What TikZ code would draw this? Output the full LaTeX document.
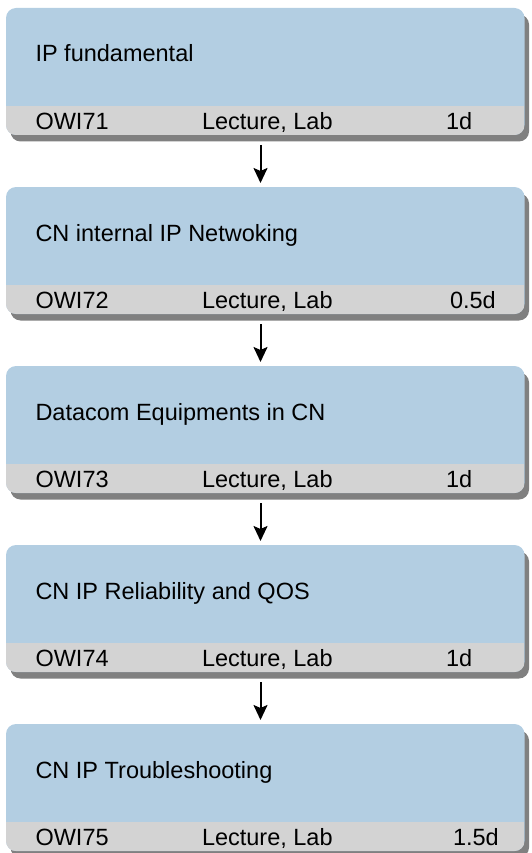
\documentclass[tikz,border=0pt]{standalone}
\usepackage{fontspec}
\setmainfont{Liberation Sans}
\usetikzlibrary{shadows,arrows.meta}
\definecolor{boxblue}{RGB}{179,206,226}
\definecolor{bargray}{RGB}{211,211,211}
\definecolor{shadowgray}{RGB}{128,128,128}
\tikzset{
  course/.style={rectangle, rounded corners=10pt, fill=boxblue, inner sep=0pt, outer sep=0pt,
    minimum width=518.5pt, minimum height=127pt, anchor=north west,
    drop shadow={shadow xshift=4.5pt, shadow yshift=-6.5pt, fill=shadowgray, opacity=1},
    path picture={\fill[bargray, sharp corners] ([yshift=29pt]path picture bounding box.south west) rectangle (path picture bounding box.south east);}},
  lbl/.style={anchor=base west, inner sep=0pt, outer sep=0pt, font=\fontsize{23.5}{28}\selectfont},
  arr/.style={line width=2pt, -{Stealth[length=15pt,width=14pt,inset=3pt]}}
}
\begin{document}
\begin{tikzpicture}[x=1pt,y=-1pt]
\useasboundingbox (0,0) rectangle (531,853);
% boxes
\node[course] (b1) at (6,8) {};
\node[course] (b2) at (6,187) {};
\node[course] (b3) at (6,366) {};
\node[course] (b4) at (6,545) {};
\node[course] (b5) at (6,724) {};
% titles
\node[lbl] (t1) at (35.5,62) {IP fundamental};
\node[lbl] (t2) at (35.5,241) {CN internal IP Netwoking};
\node[lbl] (t3) at (35.5,420) {Datacom Equipments in CN};
\node[lbl] (t4) at (35.5,599) {CN IP Reliability and QOS};
\node[lbl] (t5) at (35.5,778) {CN IP Troubleshooting};
% footers
\node[lbl] (c1) at (35.5,129.5) {OWI71};
\node[lbl] (m1) at (202,129.5) {Lecture, Lab};
\node[lbl] (d1) at (446,129.5) {1d};
\node[lbl] (c2) at (35.5,308.5) {OWI72};
\node[lbl] (m2) at (202,308.5) {Lecture, Lab};
\node[lbl] (d2) at (450,308.5) {0.5d};
\node[lbl] (c3) at (35.5,487.5) {OWI73};
\node[lbl] (m3) at (202,487.5) {Lecture, Lab};
\node[lbl] (d3) at (446,487.5) {1d};
\node[lbl] (c4) at (35.5,666.5) {OWI74};
\node[lbl] (m4) at (202,666.5) {Lecture, Lab};
\node[lbl] (d4) at (446,666.5) {1d};
\node[lbl] (c5) at (35.5,845.5) {OWI75};
\node[lbl] (m5) at (202,845.5) {Lecture, Lab};
\node[lbl] (d5) at (453,845.5) {1.5d};
% arrows
\foreach \a/\b in {b1/b2,b2/b3,b3/b4,b4/b5}{
  \draw[arr] ([xshift=-4.75pt,yshift=-10pt]\a.south) -- ([xshift=-4.75pt,yshift=4pt]\b.north);
}
\end{tikzpicture}
\end{document}
